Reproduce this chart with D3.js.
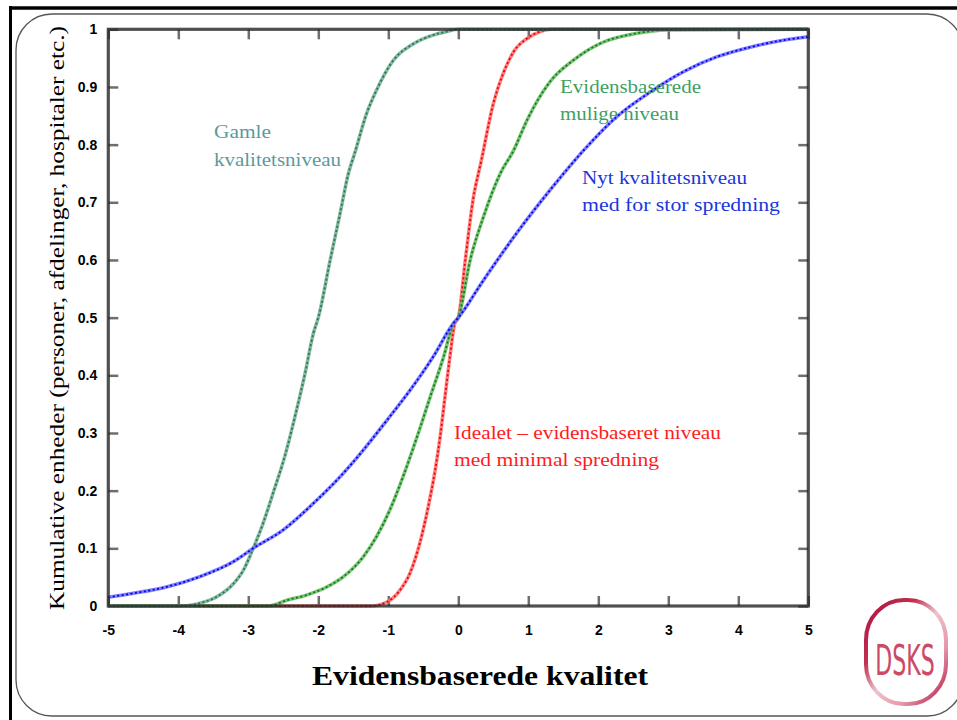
<html>
  <head>
    <meta charset="utf-8">
    <style>
      body { margin: 0; background: #fff; }
      svg { display: block; }
    </style>
  </head>
  <body>
    <script src="https://d3js.org/d3.v7.min.js"></script>
    <svg width="957" height="720" id="svg1"></svg>
    <script>

    // data, x = evidensbaseret kvalitet, y = kumulativ andel
    var xTicks = [-5, -4, -3, -2, -1, 0, 1, 2, 3, 4, 5];
    var yTicks = [0, 0.1, 0.2, 0.3, 0.4, 0.5, 0.6, 0.7, 0.8, 0.9, 1];

    var gamle = [[-5, 0], [-3.95, 0], [-3.69, 0.005], [-3.45, 0.016], [-3.21, 0.039], [-3.07, 0.062],
      [-2.93, 0.10], [-2.79, 0.143], [-2.64, 0.198], [-2.48, 0.259], [-2.31, 0.34], [-2.19, 0.403],
      [-2.07, 0.473], [-2.0, 0.5], [-1.83, 0.6], [-1.69, 0.68], [-1.57, 0.75], [-1.48, 0.785],
      [-1.31, 0.854], [-1.17, 0.894], [-0.93, 0.946], [-0.64, 0.975], [-0.36, 0.99], [-0.17, 0.996],
      [0, 1], [5, 1]];

    var evidens = [[-5, 0], [-2.71, 0], [-2.45, 0.01], [-2.17, 0.019], [-1.88, 0.033], [-1.64, 0.051],
      [-1.36, 0.085], [-1.17, 0.12], [-0.98, 0.166], [-0.79, 0.224], [-0.59, 0.293], [-0.40, 0.363],
      [-0.21, 0.432], [-0.07, 0.49], [0, 0.5], [0.17, 0.6], [0.36, 0.675], [0.6, 0.75], [0.79, 0.79],
      [0.98, 0.842], [1.31, 0.909], [1.64, 0.946], [2.02, 0.975], [2.55, 0.993], [2.98, 0.999], [5, 1]];

    var idealet = [[-5, 0], [-1.26, 0], [-1.02, 0.007], [-0.83, 0.028], [-0.69, 0.057], [-0.55, 0.109],
      [-0.43, 0.172], [-0.33, 0.236], [-0.26, 0.293], [-0.19, 0.363], [-0.12, 0.432], [-0.05, 0.49],
      [0, 0.5], [0.1, 0.6], [0.21, 0.704], [0.33, 0.773], [0.5, 0.871], [0.64, 0.923], [0.79, 0.961],
      [0.98, 0.984], [1.17, 0.996], [1.33, 1], [5, 1]];

    var nyt = [[-5, 0.015], [-4.64, 0.022], [-4.17, 0.033], [-3.69, 0.051], [-3.21, 0.077], [-2.93, 0.10],
      [-2.5, 0.132], [-2.07, 0.178], [-1.69, 0.224], [-1.36, 0.27], [-1.02, 0.322], [-0.69, 0.374],
      [-0.36, 0.432], [-0.07, 0.49], [0, 0.5], [0.36, 0.565], [0.83, 0.646], [1.31, 0.721], [1.79, 0.79],
      [2.26, 0.848], [2.74, 0.891], [3.21, 0.926], [3.69, 0.952], [4.17, 0.969], [4.64, 0.981], [5, 0.987]];

    var series = [
      { data: idealet, light: "#ff6a6a", dark: "#f00000" },
      { data: evidens, light: "#62b862", dark: "#127a12" },
      { data: gamle,   light: "#6fae92", dark: "#2c7450" },
      { data: nyt,     light: "#6a6aff", dark: "#0000ee" }
    ];

    var labels = [
      { lines: ["Gamle", "kvalitetsniveau"], x: 214, y: [138, 165.5], w: [57, 127], color: "#5b9aa0" },
      { lines: ["Evidensbaserede", "mulige niveau"], x: 560, y: [92.5, 120], w: [141, 119], color: "#3f9f63" },
      { lines: ["Nyt kvalitetsniveau", "med for stor spredning"], x: 582, y: [183.5, 211], w: [165, 198], color: "#1a36dc" },
      { lines: ["Idealet \u2013 evidensbaseret niveau", "med minimal spredning"], x: 454, y: [438.5, 466], w: [267, 205], color: "#ff1c1c" }
    ];

    var svg = d3.select("#svg1");

    // slide frame
    svg.append("rect")
      .attr("x", 16).attr("y", 14)
      .attr("width", 947).attr("height", 702)
      .attr("rx", 36).attr("ry", 36)
      .attr("fill", "none").attr("stroke", "#555").attr("stroke-width", 1.3);
    svg.append("line").attr("x1", 9).attr("x2", 957).attr("y1", 8).attr("y2", 8)
      .attr("stroke", "#000").attr("stroke-width", 3.5);
    svg.append("line").attr("x1", 10.5).attr("x2", 10.5).attr("y1", 6).attr("y2", 720)
      .attr("stroke", "#000").attr("stroke-width", 3);

    var x = d3.scaleLinear().domain([-5, 5]).range([108.3, 808.3]),
        y = d3.scaleLinear().domain([0, 1]).range([606, 29.3]);

    var g = svg.append("g");

    // axes with inward ticks on all four sides
    g.append("g")
      .attr("transform", "translate(0," + y(0) + ")")
      .call(d3.axisBottom(x).tickValues(xTicks).tickSize(-10).tickPadding(19)
        .tickFormat(function(d) { return d; }))
      .call(styleAxis);

    g.append("g")
      .attr("transform", "translate(0," + y(1) + ")")
      .call(d3.axisTop(x).tickValues(xTicks).tickSize(-10).tickFormat(""))
      .call(styleAxis);

    g.append("g")
      .attr("transform", "translate(" + x(-5) + ",0)")
      .call(d3.axisLeft(y).tickValues(yTicks).tickSize(-10).tickPadding(11)
        .tickFormat(function(d) { return d; }))
      .call(styleAxis);

    g.append("g")
      .attr("transform", "translate(" + x(5) + ",0)")
      .call(d3.axisRight(y).tickValues(yTicks).tickSize(-10).tickFormat(""))
      .call(styleAxis);

    function styleAxis(sel) {
      sel.select(".domain").remove();
      sel.selectAll(".tick line").attr("stroke", "#6e6e6e").attr("stroke-width", 2.5);
      sel.selectAll(".tick text")
        .attr("fill", "#000")
        .attr("font-family", "Liberation Sans, Arial, sans-serif")
        .attr("font-weight", "bold")
        .attr("font-size", "14px");
    }

    // curves
    var line = d3.line()
      .x(function(d) { return x(d[0]); })
      .y(function(d) { return y(d[1]); })
      .curve(d3.curveMonotoneX);

    series.forEach(function(s) {
      g.append("path")
        .datum(s.data)
        .attr("d", line)
        .attr("fill", "none")
        .attr("stroke", s.light)
        .attr("stroke-opacity", 0.85)
        .attr("stroke-width", 3.5);
      g.append("path")
        .datum(s.data)
        .attr("d", line)
        .attr("fill", "none")
        .attr("stroke", s.dark)
        .attr("stroke-width", 1.8)
        .attr("stroke-dasharray", "2,2.5");
    });

    // plot frame over the flat ends of the curves
    g.append("rect")
      .attr("x", x(-5)).attr("y", y(1))
      .attr("width", x(5) - x(-5)).attr("height", y(0) - y(1))
      .attr("fill", "none").attr("stroke", "#2a2a2a").attr("stroke-opacity", 0.82)
      .attr("stroke-width", 3.2);

    // curve labels
    labels.forEach(function(l) {
      l.lines.forEach(function(t, i) {
        svg.append("text")
          .attr("x", l.x).attr("y", l.y[i])
          .attr("fill", l.color)
          .attr("font-family", "Liberation Serif, serif")
          .attr("font-size", "19px")
          .attr("textLength", l.w[i])
          .attr("lengthAdjust", "spacingAndGlyphs")
          .text(t);
      });
    });

    // axis titles
    svg.append("text")
      .attr("transform", "translate(64,318) rotate(-90)")
      .attr("text-anchor", "middle")
      .attr("font-family", "Liberation Serif, serif")
      .attr("font-size", "21px")
      .attr("textLength", 584)
      .attr("lengthAdjust", "spacingAndGlyphs")
      .text("Kumulative enheder (personer, afdelinger, hospitaler etc.)");

    svg.append("text")
      .attr("x", 480).attr("y", 685)
      .attr("text-anchor", "middle")
      .attr("font-family", "Liberation Serif, serif")
      .attr("font-weight", "bold")
      .attr("font-size", "27px")
      .attr("textLength", 336)
      .attr("lengthAdjust", "spacingAndGlyphs")
      .text("Evidensbaserede kvalitet");

    // DSKS logo
    var defs = svg.append("defs");
    var ring = defs.append("linearGradient").attr("id", "ring")
      .attr("x1", 0).attr("y1", 0).attr("x2", 1).attr("y2", 1);
    ring.append("stop").attr("offset", 0).attr("stop-color", "#b01040");
    ring.append("stop").attr("offset", 0.3).attr("stop-color", "#c0304f");
    ring.append("stop").attr("offset", 0.5).attr("stop-color", "#efc2cc");
    ring.append("stop").attr("offset", 0.72).attr("stop-color", "#e49aab");
    ring.append("stop").attr("offset", 1).attr("stop-color", "#b3123f");

    svg.append("rect")
      .attr("x", 866).attr("y", 600)
      .attr("width", 80).attr("height", 104)
      .attr("rx", 38).attr("ry", 40)
      .attr("fill", "none").attr("stroke", "url(#ring)").attr("stroke-width", 4);

    // narrow, tall lettering: scale a normal font horizontally
    svg.append("text")
      .attr("transform", "translate(905,675) scale(0.72,1.25)")
      .attr("text-anchor", "middle")
      .attr("fill", "#cc4a66")
      .attr("font-family", "DejaVu Sans Condensed, Liberation Sans, sans-serif")
      .attr("font-size", "34px")
      .text("DSKS");

    </script>
  </body>
</html>
